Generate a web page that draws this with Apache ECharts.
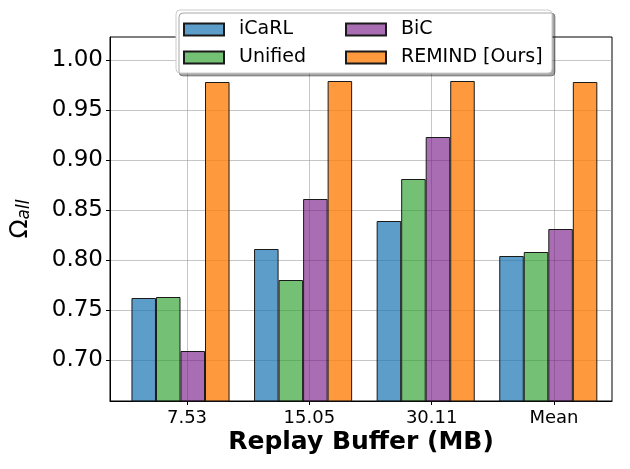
<!DOCTYPE html>
<html>
<head>
<meta charset="utf-8">
<script src="https://cdn.jsdelivr.net/npm/echarts@6/dist/echarts.min.js"></script>
<style>html,body{margin:0;padding:0;background:#fff}#c{width:630px;height:469px}</style>
</head>
<body>
<div id="c"></div>
<script>
const categories = ['7.53', '15.05', '30.11', 'Mean'];
const icarl  = [0.762, 0.811, 0.839, 0.804];
const unified = [0.763, 0.780, 0.881, 0.808];
const bic    = [0.709, 0.861, 0.923, 0.831];
const remind = [0.978, 0.979, 0.979, 0.978];
const yTicks = [0.70, 0.75, 0.80, 0.85, 0.90, 0.95, 1.00];
const yMin = 0.659, yMax = 1.023;

const FONT = 'DejaVu Sans';
const chart = echarts.init(document.getElementById('c'));
const barBorder = { borderColor: '#1a1a1a', borderWidth: 1 };
function mk(name, data, color) {
  return { name, type: 'bar', xAxisIndex: 2, yAxisIndex: 2, data,
    barGap: '0%', barCategoryGap: '20%',
    itemStyle: Object.assign({ color }, barBorder) };
}
const legendCommon = {
  orient: 'vertical', icon: 'rect', itemWidth: 40, itemHeight: 12, itemGap: 9, padding: 0,
  textStyle: { fontSize: 19, fontFamily: FONT, color: '#000', padding: [0, 0, 0, 10] },
  z: 20
};
chart.setOption({
  animation: false,
  textStyle: { fontFamily: FONT },
  grid: [
    { left: 107, right: 18, top: 37, bottom: 68, show: true, borderColor: '#000', borderWidth: 1, backgroundColor: 'transparent' },
    { left: 187, width: 367, top: 37, bottom: 68 },
    { left: 119.2, width: 490.4, top: 37, bottom: 68 }
  ],
  xAxis: [
    { gridIndex: 0, type: 'value', min: 0, max: 1,
      axisLabel: { show: false }, axisTick: { show: false }, splitLine: { show: false },
      axisLine: { show: true, lineStyle: { color: '#000', width: 1 } },
      name: 'Replay Buffer (MB)', nameLocation: 'middle', nameGap: 29,
      nameTextStyle: { fontSize: 25, fontWeight: 'bold', color: '#000', fontFamily: FONT } },
    { gridIndex: 1, type: 'category', data: categories, boundaryGap: false,
      axisLine: { show: false },
      axisTick: { show: true, length: 4, lineStyle: { color: '#000' } },
      axisLabel: { fontSize: 18, color: '#000', margin: 8, fontFamily: FONT },
      splitLine: { show: true, lineStyle: { color: 'rgba(160,160,160,0.6)', width: 1 } } },
    { gridIndex: 2, type: 'category', data: categories, show: false }
  ],
  yAxis: [
    { gridIndex: 0, type: 'value', min: yMin, max: yMax,
      axisLine: { show: true, lineStyle: { color: '#000' } },
      axisTick: { show: true, length: 4, customValues: yTicks, lineStyle: { color: '#000' } },
      axisLabel: { customValues: yTicks, formatter: v => v.toFixed(2), fontSize: 23, color: '#000', margin: 7, fontFamily: FONT },
      splitLine: { show: true, lineStyle: { color: 'rgba(160,160,160,0.6)', width: 1 } },
      name: '{o|Ω}{s|all}', nameLocation: 'middle', nameRotate: 90, nameGap: 77,
      nameTextStyle: { color: '#000', rich: {
        o: { fontSize: 25, fontFamily: FONT, color: '#000' },
        s: { fontSize: 17, fontFamily: FONT, fontStyle: 'italic', color: '#000', verticalAlign: 'bottom' }
      } } },
    { gridIndex: 1, type: 'value', min: yMin, max: yMax, show: false, splitLine: { show: false } },
    { gridIndex: 2, type: 'value', min: yMin, max: yMax, show: false, splitLine: { show: false } }
  ],
  legend: [
    Object.assign({ data: ['iCaRL', 'Unified'], left: 183, top: 20 }, legendCommon),
    Object.assign({ data: ['BiC', 'REMIND [Ours]'], left: 345, top: 20 }, legendCommon)
  ],
  graphic: [
    { type: 'rect', z: 15, shape: { x: 176, y: 10, width: 376, height: 63, r: 4 },
      style: { fill: '#fff', stroke: '#cccccc', lineWidth: 1,
        shadowColor: 'rgba(0,0,0,0.35)', shadowOffsetX: 3, shadowOffsetY: 3, shadowBlur: 0 } }
  ],
  series: [
    mk('iCaRL', icarl, 'rgba(31,119,180,0.72)'),
    mk('Unified', unified, 'rgba(44,160,44,0.66)'),
    mk('BiC', bic, 'rgba(115,20,130,0.62)'),
    mk('REMIND [Ours]', remind, 'rgba(255,127,14,0.8)')
  ]
});
</script>
</body>
</html>
